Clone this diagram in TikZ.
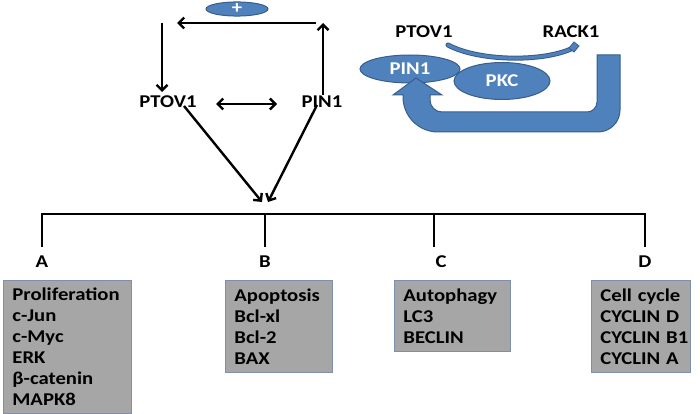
\documentclass[tikz,border=0pt]{standalone}
\usepackage{fontspec}
\setmainfont{Carlito}[FakeStretch=1.15]
\usetikzlibrary{arrows.meta,shapes.geometric}
\definecolor{bfill}{HTML}{4F81BD}
\definecolor{bedge}{HTML}{385D8A}
\definecolor{gfill}{HTML}{A6A6A6}
\definecolor{gedge}{HTML}{7F8FA9}
\tikzset{
  lbl/.style={font=\fontsize{18}{21}\selectfont\bfseries, inner sep=0pt},
  arr/.style={line width=2.4pt, -{Straight Barb[length=5.5pt,width=11pt]}},
  darr/.style={line width=2.4pt, {Straight Barb[length=5.5pt,width=11pt]}-{Straight Barb[length=5.5pt,width=11pt]}},
  blueell/.style={ellipse, draw=bedge, fill=bfill, line width=1pt, text=white, inner sep=0pt, font=\fontsize{18}{21}\selectfont\bfseries},
  gbox/.style={rectangle, draw=gedge, fill=gfill, line width=0.8pt, anchor=north west, align=left, inner xsep=9pt, inner ysep=0pt, font=\fontsize{18}{21}\selectfont\bfseries},
  tree/.style={line width=2.4pt}
}
\begin{document}
\begin{tikzpicture}[x=1pt,y=-1pt]
\useasboundingbox (0,0) rectangle (700,414);
% left loop
\node[blueell, minimum width=62pt, minimum height=14pt] (plus) at (237,9) {+};
\node[lbl] (ptovL) at (168,102) {PTOV1};
\node[lbl] (pinL) at (322,102) {PIN1};
\coordinate (upS) at (323,95);
\coordinate (upE) at (323,23);
\coordinate (hS) at (316,23);
\coordinate (hE) at (177,23);
\coordinate (dS) at (162,23);
\coordinate (dE) at (162,92);
\draw[arr] (upS) -- (upE);
\draw[arr] (hS) -- (hE);
\draw[arr] (dS) -- (dE);
\coordinate (dbS) at (216,104);
\coordinate (dbE) at (277,104);
\draw[darr] (dbS) -- (dbE);
\coordinate (lS) at (184,106);
\coordinate (lE) at (262,202);
\coordinate (rS) at (317,105);
\coordinate (rE) at (268,202);
\draw[arr] (lS) -- (lE);
\draw[arr] (rS) -- (rE);
% right cluster
\node[lbl] (ptovR) at (424,32) {PTOV1};
\node[lbl] (rack) at (571,32) {RACK1};
\coordinate (cS) at (448,45);
\coordinate (cE) at (573,48);
\draw[line width=5pt, bedge, line cap=round] (cS) .. controls (480,62) and (545,62) .. (cE);
\draw[line width=3pt, bfill, line cap=round] (cS) .. controls (480,62) and (545,62) .. (cE);
\draw[draw=bedge, fill=bfill, line width=0.8pt] (569,48) -- (574,42) -- (579,46) -- (574,52) -- cycle;
\node[blueell, minimum width=96pt, minimum height=37pt] (pkc) at (502,81) {PKC};
\node[blueell, minimum width=100pt, minimum height=28pt] (pinR) at (410,69) {PIN1};
\path[draw=bedge, fill=bfill, line width=1pt]
  (597,55) -- (620,55) -- (620,110) .. controls (620,122.1) and (610.1,132) .. (598,132)
  -- (438,132) .. controls (418.7,132) and (403,116.3) .. (403,97)
  -- (403,95) -- (393,95) -- (416,78) -- (442,95) -- (430,95) -- (430,100)
  .. controls (430,106.6) and (435.4,112) .. (442,112) -- (587,112)
  .. controls (592.5,112) and (597,107.5) .. (597,102) -- cycle;
% tree
\draw[tree] (42,247) -- (42,214) -- (645,214) -- (645,247);
\draw[tree] (265,214) -- (265,247);
\draw[tree] (434,214) -- (434,247);
\node[lbl] (la) at (42,262) {A};
\node[lbl] (lb) at (265,262) {B};
\node[lbl] (lc) at (441,262) {C};
\node[lbl] (ld) at (645,262) {D};
% boxes
\node[gbox, text width=110pt, minimum width=128pt, minimum height=133pt] (boxA) at (3,280)
  {Proliferation\\c-Jun\\c-Myc\\ERK\\β-catenin\\MAPK8};
\node[gbox, text width=89pt, minimum width=107pt, minimum height=92pt] (boxB) at (225,280)
  {Apoptosis\\Bcl-xl\\Bcl-2\\BAX};
\node[gbox, text width=98pt, minimum width=116pt, minimum height=71pt] (boxC) at (394,280)
  {Autophagy\\LC3\\BECLIN};
\node[gbox, text width=81pt, minimum width=99pt, minimum height=92pt] (boxD) at (591,280)
  {Cell~cycle\\CYCLIN~D\\CYCLIN~B1\\CYCLIN~A};
\end{tikzpicture}
\end{document}
